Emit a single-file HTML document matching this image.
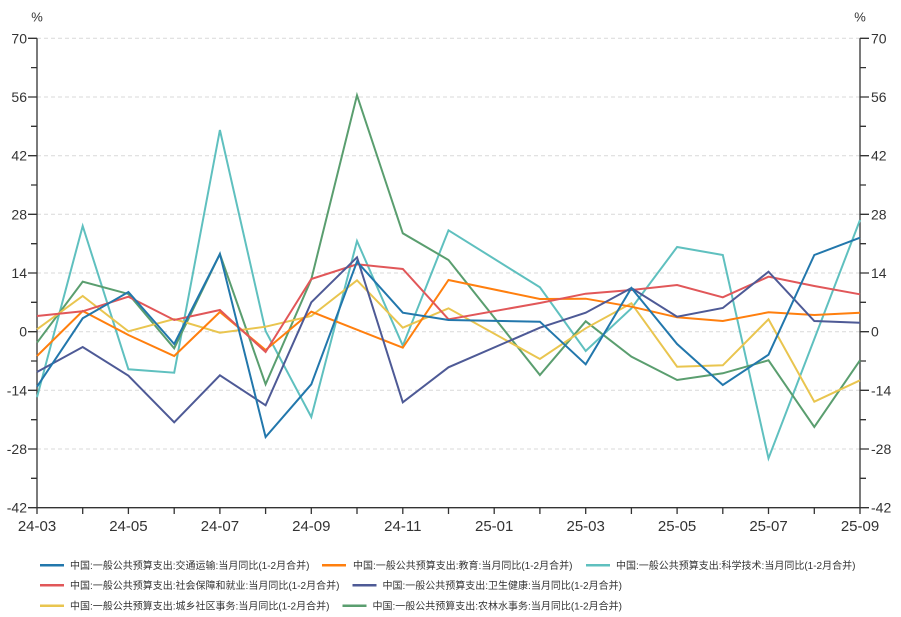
<!DOCTYPE html>
<html><head><meta charset="utf-8"><style>
html,body{margin:0;padding:0;background:#fff;}
svg{display:block;}
text{font-family:"Liberation Sans","Noto Sans CJK SC",sans-serif;fill:#333;}
</style></head><body>
<svg width="901" height="617" viewBox="0 0 901 617" xmlns="http://www.w3.org/2000/svg">
<g stroke="#d9d9d9" stroke-width="1" stroke-dasharray="4 3">
<line x1="37" x2="860" y1="38.3" y2="38.3"/>
<line x1="37" x2="860" y1="97" y2="97"/>
<line x1="37" x2="860" y1="155.7" y2="155.7"/>
<line x1="37" x2="860" y1="214.3" y2="214.3"/>
<line x1="37" x2="860" y1="273" y2="273"/>
<line x1="37" x2="860" y1="331.7" y2="331.7"/>
<line x1="37" x2="860" y1="390.3" y2="390.3"/>
<line x1="37" x2="860" y1="449" y2="449"/>
</g>
<g stroke="#333" stroke-width="1.3" fill="none">
<line x1="37" x2="37" y1="38.3" y2="508"/>
<line x1="860" x2="860" y1="38.3" y2="508"/>
<line x1="37" x2="860" y1="507.7" y2="507.7"/>
<!-- left ticks -->
<path d="M28 38.3H37M31 67.6H37M28 97H37M31 126.3H37M28 155.7H37M31 185H37M28 214.3H37M31 243.7H37M28 273H37M31 302.3H37M28 331.7H37M31 361H37M28 390.3H37M31 419.7H37M28 449H37M31 478.3H37M28 507.7H37"/>
<!-- right ticks -->
<path d="M860 38.3H869M860 67.6H866M860 97H869M860 126.3H866M860 155.7H869M860 185H866M860 214.3H869M860 243.7H866M860 273H869M860 302.3H866M860 331.7H869M860 361H866M860 390.3H869M860 419.7H866M860 449H869M860 478.3H866M860 507.7H869"/>
<!-- x ticks -->
<path d="M37 507.7V514M82.7 507.7V514M128.4 507.7V514M174.2 507.7V514M219.9 507.7V514M265.6 507.7V514M311.3 507.7V514M357 507.7V514M402.8 507.7V514M448.5 507.7V514M494.2 507.7V514M539.9 507.7V514M585.7 507.7V514M631.4 507.7V514M677.1 507.7V514M722.8 507.7V514M768.5 507.7V514M814.3 507.7V514M860 507.7V514"/>
</g>
<g font-size="14" text-anchor="end">
<text x="27" y="43.3">70</text>
<text x="27" y="102">56</text>
<text x="27" y="160.7">42</text>
<text x="27" y="219.3">28</text>
<text x="27" y="278">14</text>
<text x="27" y="336.7">0</text>
<text x="27" y="395.3">-14</text>
<text x="27" y="454">-28</text>
<text x="27" y="512.7">-42</text>
</g>
<g font-size="14" text-anchor="start">
<text x="871" y="43.3">70</text>
<text x="871" y="102">56</text>
<text x="871" y="160.7">42</text>
<text x="871" y="219.3">28</text>
<text x="871" y="278">14</text>
<text x="871" y="336.7">0</text>
<text x="871" y="395.3">-14</text>
<text x="871" y="454">-28</text>
<text x="871" y="512.7">-42</text>
</g>
<g font-size="13" text-anchor="middle">
<text x="37" y="21.5">%</text>
<text x="860" y="21.5">%</text>
</g>
<g font-size="15" text-anchor="middle">
<text x="37" y="531">24-03</text>
<text x="128.4" y="531">24-05</text>
<text x="219.9" y="531">24-07</text>
<text x="311.3" y="531">24-09</text>
<text x="402.8" y="531">24-11</text>
<text x="494.2" y="531">25-01</text>
<text x="585.7" y="531">25-03</text>
<text x="677.1" y="531">25-05</text>
<text x="768.5" y="531">25-07</text>
<text x="860" y="531">25-09</text>
</g>
<g fill="none" stroke-width="2" stroke-linejoin="miter">
<!-- teal 科学技术 -->
<polyline stroke="#5fc0bf" points="37,397.3 82.7,226 128.4,369.3 174.2,372.7 219.9,130 265.6,331 311.3,417 357,241 402.8,345.7 448.5,230.3 539.9,287.3 585.7,351 631.4,308.3 677.1,247 722.8,255 768.5,458.3 860,220"/>
<!-- green 农林水 -->
<polyline stroke="#5a9e6f" points="37,342.7 82.7,281.7 128.4,294 174.2,348.3 219.9,254 265.6,384.3 311.3,279.3 357,95.3 402.8,233.3 448.5,260 539.9,375 585.7,321.3 631.4,356.7 677.1,380 722.8,373.3 768.5,360.3 814.3,427 860,360.3"/>
<!-- yellow 城乡 -->
<polyline stroke="#e9c54f" points="37,329.3 82.7,296 128.4,331.3 174.2,319 219.9,332.7 265.6,326.7 311.3,316 357,280.3 402.8,327.7 448.5,308.3 539.9,359 585.7,328.3 631.4,303.3 677.1,366.7 722.8,365.3 768.5,319.3 814.3,401.7 860,380.3"/>
<!-- orange 教育 -->
<polyline stroke="#ff7f0e" points="37,356 82.7,311 128.4,335 174.2,356 219.9,312 265.6,350 311.3,311.7 402.8,347.7 448.5,280 539.9,299 585.7,298.7 631.4,306.7 677.1,317.3 722.8,321 768.5,312.3 814.3,315 860,312.7"/>
<!-- red 社保 -->
<polyline stroke="#e15759" points="37,316 82.7,311.3 128.4,296.7 174.2,320 219.9,310 265.6,352 311.3,279 357,264.3 402.8,269 448.5,319.3 539.9,303 585.7,293.7 631.4,290 677.1,285 722.8,297.3 768.5,276.7 814.3,286 860,294.3"/>
<!-- navy 卫生健康 -->
<polyline stroke="#4e5a96" points="37,372 82.7,347 128.4,375.7 174.2,422.3 219.9,375.3 265.6,405.3 311.3,302.3 357,257.3 402.8,402.3 448.5,367.3 539.9,327.7 585.7,312.7 631.4,288 677.1,316.7 722.8,308 768.5,271.7 814.3,321 860,322.7"/>
<!-- blue 交通运输 -->
<polyline stroke="#2277ac" points="37,386.7 82.7,318.3 128.4,292 174.2,344 219.9,254 265.6,437 311.3,384.3 357,261.7 402.8,312.7 448.5,320 539.9,321.7 585.7,364.3 631.4,288 677.1,344 722.8,385 768.5,354.7 814.3,255 860,237.7"/>
</g>
<!-- legend -->
<g stroke-width="2.5">
<line x1="40" x2="64" y1="565.3" y2="565.3" stroke="#2277ac"/>
<line x1="322" x2="346" y1="565.3" y2="565.3" stroke="#ff7f0e"/>
<line x1="586" x2="610" y1="565.3" y2="565.3" stroke="#5fc0bf"/>
<line x1="40" x2="64" y1="585.3" y2="585.3" stroke="#e15759"/>
<line x1="352.5" x2="376.5" y1="585.3" y2="585.3" stroke="#4e5a96"/>
<line x1="40" x2="64" y1="605.7" y2="605.7" stroke="#e9c54f"/>
<line x1="342.5" x2="366.5" y1="605.7" y2="605.7" stroke="#5a9e6f"/>
</g>
<g font-size="10">
<text x="70" y="569">中国:一般公共预算支出:交通运输:当月同比(1-2月合并)</text>
<text x="353" y="569">中国:一般公共预算支出:教育:当月同比(1-2月合并)</text>
<text x="616" y="569">中国:一般公共预算支出:科学技术:当月同比(1-2月合并)</text>
<text x="70" y="589">中国:一般公共预算支出:社会保障和就业:当月同比(1-2月合并)</text>
<text x="382.5" y="589">中国:一般公共预算支出:卫生健康:当月同比(1-2月合并)</text>
<text x="70" y="609.4">中国:一般公共预算支出:城乡社区事务:当月同比(1-2月合并)</text>
<text x="372.5" y="609.4">中国:一般公共预算支出:农林水事务:当月同比(1-2月合并)</text>
</g>
</svg>
</body></html>
